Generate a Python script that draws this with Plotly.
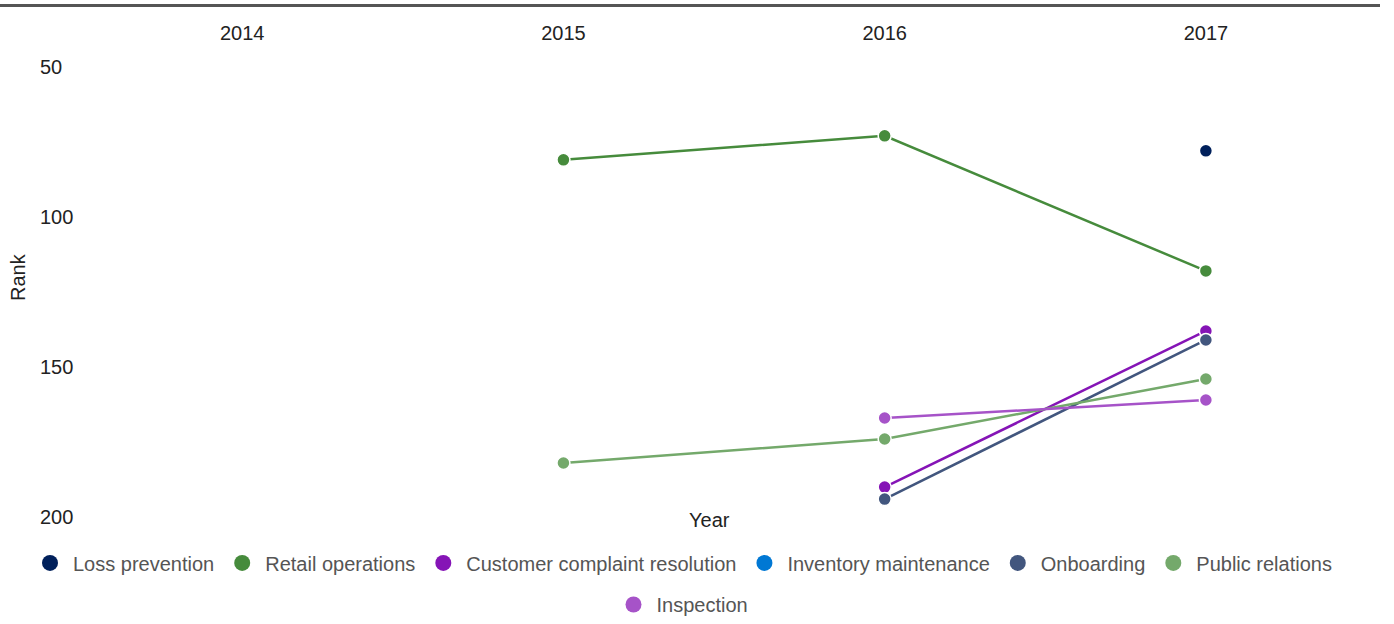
import plotly.graph_objects as go

# Rank by year for each skill (None = no ranking that year)
years = [2014, 2015, 2016, 2017]
loss_prevention = [None, None, None, 78]
retail_operations = [None, 81, 73, 118]
customer_complaint = [None, None, 190, 138]
inventory_maintenance = [None, None, None, None]
onboarding = [None, None, 194, 141]
public_relations = [None, 182, 174, 154]
inspection = [None, None, 167, 161]

series = [
    ("Loss prevention", loss_prevention, "#00205b"),
    ("Retail operations", retail_operations, "#468b3c"),
    ("Customer complaint resolution", customer_complaint, "#8514b6"),
    ("Inventory maintenance", inventory_maintenance, "#0078d4"),
    ("Onboarding", onboarding, "#42567e"),
    ("Public relations", public_relations, "#74a96b"),
    ("Inspection", inspection, "#a653c8"),
]

FONT = "Liberation Sans, Arial, sans-serif"
W, H = 1394, 624
ML, MR, MT, MB = 0, 14, 7, 84
PW, PH = W - ML - MR, H - MT - MB


def px_x(x):
    return (x - ML) / PW


def px_y(y):
    return (H - MB - y) / PH


fig = go.Figure()

for name, vals, color in series:
    fig.add_trace(go.Scatter(
        x=years, y=vals, name=name, mode="lines+markers",
        line=dict(color=color, width=2.5),
        marker=dict(color=color, size=13, line=dict(color="white", width=1.5)),
        connectgaps=False, showlegend=False,
    ))
    # legend entry with a bigger dot; last one goes on its own row
    fig.add_trace(go.Scatter(
        x=[None], y=[None], name=name, mode="markers",
        marker=dict(color=color, size=20), showlegend=True,
        legend="legend2" if name == "Inspection" else "legend",
    ))

legend_style = dict(
    orientation="h", x=px_x(682), xanchor="center", yanchor="middle",
    itemwidth=36, font=dict(size=20, color="#555"),
)

fig.update_layout(
    width=W, height=H,
    margin=dict(l=ML, r=MR, t=MT, b=MB),
    plot_bgcolor="white", paper_bgcolor="white",
    font=dict(family=FONT, size=20, color="#222"),
    xaxis=dict(
        side="top", range=[2013.246, 2017.542], automargin=False,
        tickvals=years, ticktext=[str(y) for y in years],
        ticklabelposition="inside", ticks="",
        ticklabelstandoff=20,
        showgrid=False, zeroline=False,
        showline=True, linecolor="#555", linewidth=3,
        tickfont=dict(size=20, color="#222"),
    ),
    yaxis=dict(
        range=[206.97, 30.09], automargin=False,
        tickvals=[50, 100, 150, 200],
        ticklabelposition="inside", ticks="",
        ticklabelstandoff=37,
        showgrid=False, zeroline=False, showline=False,
        tickfont=dict(size=20, color="#222"),
    ),
    legend=dict(legend_style, y=px_y(565)),
    legend2=dict(legend_style, y=px_y(607)),
    annotations=[
        dict(text="Rank", x=px_x(18), y=px_y(278), xref="paper", yref="paper",
             xanchor="center", yanchor="middle",
             showarrow=False, textangle=-90, font=dict(size=20, color="#222")),
        dict(text="Year", x=px_x(710), y=px_y(522), xref="paper", yref="paper",
             xanchor="center", yanchor="middle",
             showarrow=False, font=dict(size=20, color="#222")),
    ],
)

fig.write_html("out.html", config={"displayModeBar": False},
               post_script="document.body.style.margin='0';")
